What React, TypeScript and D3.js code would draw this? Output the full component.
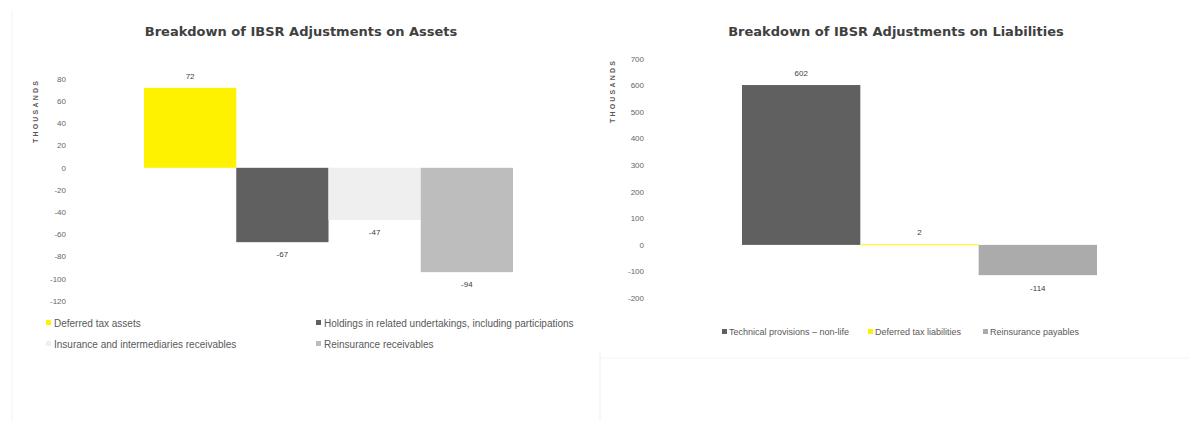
import React from "react";
import * as d3 from "d3";

const assetSeries = [
  "Deferred tax assets",
  "Holdings in related undertakings, including participations",
  "Insurance and intermediaries receivables",
  "Reinsurance receivables",
];
const assetValues = [72, -67, -47, -94];
const assetColors = ["#FFF200", "#606060", "#EFEFEF", "#BDBDBD"];
const assetTicks = [80, 60, 40, 20, 0, -20, -40, -60, -80, -100, -120];

const liabSeries = [
  "Technical provisions \u2013 non-life",
  "Deferred tax liabilities",
  "Reinsurance payables",
];
const liabValues = [602, 2, -114];
const liabColors = ["#606060", "#FFF200", "#ABABAB"];
const liabTicks = [700, 600, 500, 400, 300, 200, 100, 0, -100, -200];

const titleFont = "'DejaVu Sans', Verdana, sans-serif";
const bodyFont = "'Liberation Sans', Arial, sans-serif";

export default function App() {
  const yL = d3.scaleLinear().domain([-120, 80]).range([301, 79]);
  const xL = d3.scaleBand<string>().domain(assetSeries).range([144, 513]).padding(0);
  const yR = d3.scaleLinear().domain([-200, 700]).range([298, 59]);
  const xR = d3.scaleBand<string>().domain(liabSeries).range([742, 1097]).padding(0);

  const leftLegendPos = [
    { x: 46, y: 323 },
    { x: 316, y: 323 },
    { x: 46, y: 344 },
    { x: 316, y: 344 },
  ];
  const rightLegendPos = [
    { x: 722, y: 332 },
    { x: 868, y: 332 },
    { x: 983, y: 332 },
  ];

  return (
    <svg
      width={1190}
      height={421}
      style={{ position: "absolute", left: 0, top: 0, background: "#fff" }}
    >
      <rect x={0} y={0} width={1190} height={421} fill="#fff" />
      <line x1={12} y1={10} x2={12} y2={421} stroke="#f3f3f3" />
      <line x1={600} y1={352} x2={600} y2={421} stroke="#eeeeee" />
      <line x1={600} y1={358} x2={1190} y2={358} stroke="#f3f3f3" />

      {/* LEFT CHART */}
      <text
        x={301}
        y={36}
        textAnchor="middle"
        fontFamily={titleFont}
        fontWeight="bold"
        fontSize={13}
        fill="#404040"
      >
        Breakdown of IBSR Adjustments on Assets
      </text>
      <text
        transform={`translate(38,111) rotate(-90)`}
        textAnchor="middle"
        fontFamily={bodyFont}
        fontWeight="bold"
        fontSize={7}
        letterSpacing={2.2}
        fill="#595959"
      >
        THOUSANDS
      </text>
      {assetTicks.map((t) => (
        <text
          key={t}
          x={66}
          y={yL(t)}
          dy="0.35em"
          textAnchor="end"
          fontFamily={bodyFont}
          fontSize={8}
          fill="#666666"
        >
          {t}
        </text>
      ))}
      {assetSeries.map((s, i) => {
        const v = assetValues[i];
        const y0 = yL(0);
        const y1 = yL(v);
        return (
          <g key={s}>
            <rect
              x={xL(s)!}
              y={Math.min(y0, y1)}
              width={xL.bandwidth()}
              height={Math.abs(y1 - y0)}
              fill={assetColors[i]}
            />
            <text
              x={xL(s)! + xL.bandwidth() / 2}
              y={v >= 0 ? y1 - 12 : y1 + 12}
              dy="0.35em"
              textAnchor="middle"
              fontFamily={bodyFont}
              fontSize={8}
              fill="#404040"
            >
              {v}
            </text>
          </g>
        );
      })}
      {assetSeries.map((s, i) => (
        <g key={"lg" + s}>
          <rect
            x={leftLegendPos[i].x}
            y={leftLegendPos[i].y - 3}
            width={5}
            height={5}
            fill={assetColors[i]}
          />
          <text
            x={leftLegendPos[i].x + 8}
            y={leftLegendPos[i].y}
            dy="0.35em"
            fontFamily={bodyFont}
            fontSize={10}
            fill="#595959"
          >
            {s}
          </text>
        </g>
      ))}

      {/* RIGHT CHART */}
      <text
        x={896}
        y={36}
        textAnchor="middle"
        fontFamily={titleFont}
        fontWeight="bold"
        fontSize={13}
        fill="#404040"
      >
        Breakdown of IBSR Adjustments on Liabilities
      </text>
      <text
        transform={`translate(615,91) rotate(-90)`}
        textAnchor="middle"
        fontFamily={bodyFont}
        fontWeight="bold"
        fontSize={7}
        letterSpacing={2.2}
        fill="#595959"
      >
        THOUSANDS
      </text>
      {liabTicks.map((t) => (
        <text
          key={t}
          x={644}
          y={yR(t)}
          dy="0.35em"
          textAnchor="end"
          fontFamily={bodyFont}
          fontSize={8}
          fill="#666666"
        >
          {t}
        </text>
      ))}
      {liabSeries.map((s, i) => {
        const v = liabValues[i];
        const y0 = yR(0);
        const y1 = yR(v);
        return (
          <g key={s}>
            <rect
              x={xR(s)!}
              y={Math.min(y0, y1)}
              width={xR.bandwidth()}
              height={Math.max(1, Math.abs(y1 - y0))}
              fill={liabColors[i]}
            />
            <text
              x={xR(s)! + xR.bandwidth() / 2}
              y={v >= 0 ? y1 - 12 : y1 + 13}
              dy="0.35em"
              textAnchor="middle"
              fontFamily={bodyFont}
              fontSize={8}
              fill="#404040"
            >
              {v}
            </text>
          </g>
        );
      })}
      {liabSeries.map((s, i) => (
        <g key={"rg" + s}>
          <rect
            x={rightLegendPos[i].x}
            y={rightLegendPos[i].y - 3}
            width={5}
            height={5}
            fill={liabColors[i]}
          />
          <text
            x={rightLegendPos[i].x + 7}
            y={rightLegendPos[i].y}
            dy="0.35em"
            fontFamily={bodyFont}
            fontSize={9}
            fill="#595959"
          >
            {s}
          </text>
        </g>
      ))}
    </svg>
  );
}
